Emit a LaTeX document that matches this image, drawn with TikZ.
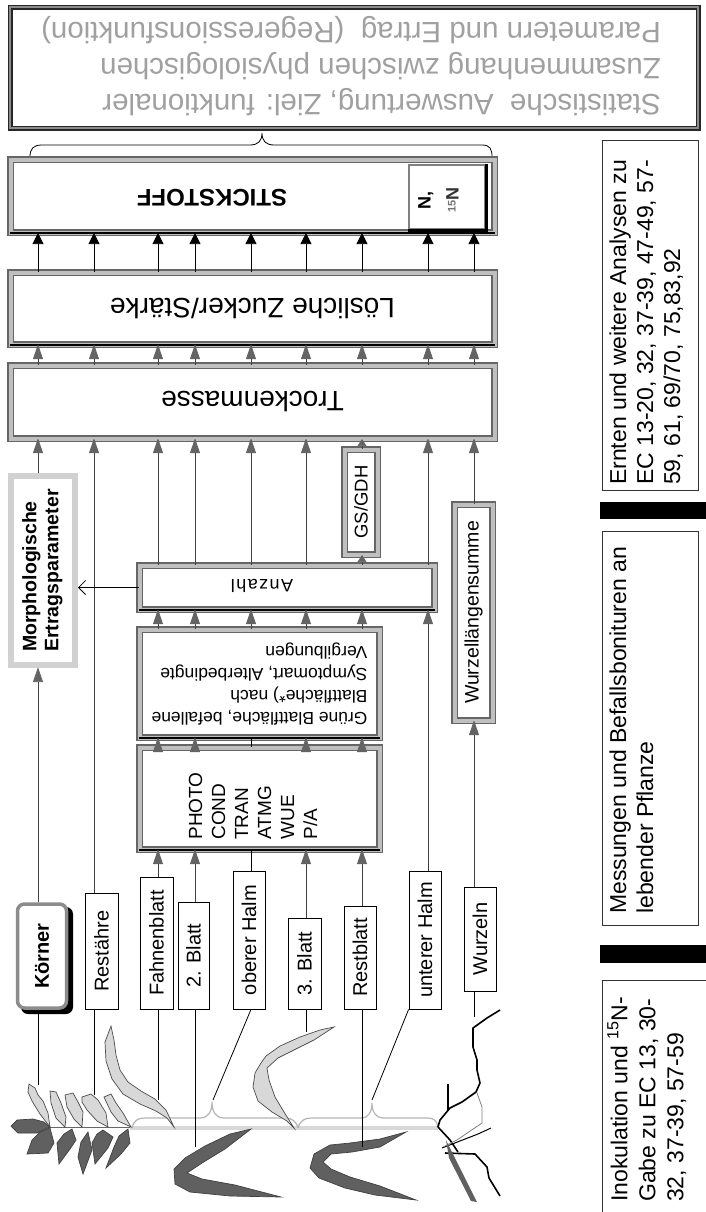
\documentclass[tikz,border=0pt]{standalone}
\usepackage{fontspec}
\setmainfont{Liberation Sans}
\usepackage{graphicx}
\usetikzlibrary{arrows.meta}
\definecolor{txtgray}{HTML}{A0A0A0}
\definecolor{agray}{HTML}{646464}
\definecolor{lgray}{HTML}{D8D8D8}
\definecolor{dgray}{HTML}{606060}
\definecolor{bgray}{HTML}{B4B4B4}
\newcommand\fsz[2]{\fontsize{#1}{#2}\selectfont}
\begin{document}
\begin{tikzpicture}[x=1pt,y=-1pt,
  bevel/.style={draw=black!60, line width=1.1pt, double=black!25, double distance=4pt, fill=white, inner sep=0pt},
  lbl/.style={draw=black, line width=0.8pt, fill=white, inner sep=0pt, font=\fsz{20}{23}},
  infobox/.style={draw=black!80, line width=0.9pt, inner sep=0pt},
  barrow/.style={draw=black, line width=0.8pt, -{Triangle[length=11pt,width=11pt]}},
  garrow/.style={draw=black!75, line width=0.8pt, -{Triangle[length=15pt,width=10pt,round,color=agray]}},
  gstub/.style={draw=black!75, line width=0.8pt, -{Triangle[length=7pt,width=9pt,color=agray]}},
  plain/.style={draw=black, line width=0.8pt},
  oarrow/.style={draw=black, line width=0.8pt, -{Straight Barb[length=7pt,width=14pt]}},
  lleaf/.style={fill=lgray, draw=black!70, line width=0.7pt},
  dleaf/.style={fill=dgray, draw=black!75, line width=0.7pt},
  rootline/.style={draw=black, line width=1.6pt, line join=round},
  bracegray/.style={draw=bgray, line width=1.2pt}
]
\useasboundingbox (0,0) rectangle (706,1212);
\fill[white] (0,0) rectangle (706,1212);

% ---------- top statistics box ----------
\node[draw=black!85, line width=1.5pt, double=black!45, double distance=2pt, fill=white,
      minimum width=688, minimum height=121, inner sep=0pt] (stat) at (354,68) {};
\node[text=txtgray, font=\fsz{29.5}{36}, inner sep=0pt] (stattext) at (351,66)
  {\rotatebox{180}{\begin{tabular}{@{}l@{}}Statistische\ \ Auswertung, Ziel: funktionaler\\Zusammenhang zwischen physiologischen\\Parametern und Ertrag\ \ (Regeressionsfunktion)\end{tabular}}};

% brace
\draw[black, line width=0.8pt] (30,157) .. controls (30,149) and (33,145) .. (42,145) -- (250,145)
  .. controls (258,145) and (262,141) .. (262,133) .. controls (262,141) and (266,145) .. (274,145)
  -- (482,145) .. controls (490,145) and (492,149) .. (492,157);

% ---------- STICKSTOFF ----------
\node[bevel, minimum width=484, minimum height=73] (stick) at (252.5,196) {};
\draw[black, line width=1.8pt] (stick.south west) -- (stick.south east);
\node[font=\bfseries\fsz{24}{28}] (sticktext) at (212,198) {\rotatebox{180}{STICKSTOFF}};
\node[draw=black!50, line width=2.5pt, fill=white, minimum width=76, minimum height=64, inner sep=0pt] (nbox) at (447,197) {};
\draw[black, line width=3pt] (nbox.north east) -- (nbox.south east) -- (nbox.south west);
\node[font=\bfseries\fsz{18}{28}, inner sep=0pt] (ntext) at (439,200)
  {\rotatebox{90}{\begin{tabular}{@{}c@{}}N,\\{\color{black!55}\fsz{11}{11}\raisebox{0.5ex}{15}}{\color{black!80}N}\end{tabular}}};

% ---------- Loesliche Zucker ----------
\node[bevel, minimum width=484, minimum height=72, font=\fsz{28}{32}] (loes) at (252.5,308.5) {\rotatebox{180}{Lösliche Zucker/Stärke}};
\draw[black, line width=1.8pt] (loes.south west) -- (loes.south east);

% ---------- Trockenmasse ----------
\node[bevel, minimum width=484, minimum height=73, font=\fsz{28}{32}] (trock) at (252.5,402) {\rotatebox{180}{Trockenmasse}};

% ---------- Morphologische ----------
\node[draw=black!18, line width=6pt, fill=white, minimum width=64, minimum height=189, inner sep=0pt,
      font=\bfseries\fsz{19.5}{22}] (morph) at (43,570.5)
  {\rotatebox{90}{\begin{tabular}{@{}l@{}}Morphologische\\Ertragsparameter\end{tabular}}};

% ---------- GS/GDH, Anzahl, Gruene, PHOTO, Wurzellaengensumme ----------
\node[bevel, minimum width=33, minimum height=105, font=\fsz{18.5}{22}] (gsgdh) at (361,502) {\rotatebox{90}{GS/GDH}};
\node[bevel, minimum width=295, minimum height=44] (anzahl) at (287,587.5) {};
\draw[black, line width=1.5pt] (anzahl.south west) -- (anzahl.south east);
\node[font=\fsz{18}{22}\addfontfeatures{LetterSpace=8}, inner sep=0pt] (anzahltext) at (262,586) {\rotatebox{180}{Anzahl}};
\node[bevel, minimum width=240, minimum height=108, font=\fsz{17.5}{22}] (gruene) at (259.5,683.5)
  {\rotatebox{180}{\begin{tabular}{@{}l@{}}Grüne Blattfläche, befallene\\Blattfläche*) nach\\Symptomart, Alterbedingte\\Vergilbungen\end{tabular}}};
\draw[black, line width=1.5pt] (gruene.south west) -- (gruene.south east);
\node[bevel, minimum width=240, minimum height=102] (photo) at (259.5,798.5) {};
\draw[black, line width=1.5pt] (photo.south west) -- (photo.south east);
\node[font=\fsz{19}{23}, inner sep=0pt] (phototext) at (255,806)
  {\rotatebox{90}{\begin{tabular}{@{}l@{}}PHOTO\\COND\\TRAN\\ATMG\\WUE\\P/A\end{tabular}}};
\node[bevel, minimum width=38, minimum height=216, font=\fsz{19.5}{23}] (wurzsum) at (473.5,612.5) {\rotatebox{90}{Wurzellängensumme}};

% ---------- label boxes ----------
\fill[black, rounded corners=7pt] (21,907) rectangle (73,1014);
\node[draw=black!45, line width=3.5pt, fill=white, rounded corners=7pt, minimum width=49, minimum height=104,
      inner sep=0pt, font=\bfseries\fsz{20}{24}] (koerner) at (42,956) {\rotatebox{90}{Körner}};
\node[lbl, minimum width=33, minimum height=116] (restaehre) at (101.5,951) {\rotatebox{90}{Restähre}};
\node[lbl, minimum width=33, minimum height=132] (fahnen) at (156.5,943) {\rotatebox{90}{Fahnenblatt}};
\node[lbl, minimum width=31, minimum height=107] (blatt2) at (193.5,955.5) {\rotatebox{90}{2. Blatt}};
\node[lbl, minimum width=32, minimum height=138] (oberer) at (249,940) {\rotatebox{90}{oberer Halm}};
\node[lbl, minimum width=33, minimum height=91] (blatt3) at (304.5,963.5) {\rotatebox{90}{3. Blatt}};
\node[lbl, minimum width=32, minimum height=103] (restblatt) at (360,957.5) {\rotatebox{90}{Restblatt}};
\node[lbl, minimum width=32, minimum height=138] (unterer) at (425,940) {\rotatebox{90}{unterer Halm}};
\node[lbl, minimum width=32, minimum height=104] (wurzeln) at (480,939) {\rotatebox{90}{Wurzeln}};

% ---------- right column ----------
\node[infobox, minimum width=96, minimum height=350] (ernten) at (650,315) {};
\node[anchor=south west, inner sep=0pt, font=\fsz{23}{27}] (erntentext) at (607,485)
  {\rotatebox{90}{\begin{tabular}{@{}l@{}}Ernten und weitere Analysen zu\\EC 13-20, 32, 37-39, 47-49, 57-\\59, 61, 69/70, 75,83,92\end{tabular}}};
\node[fill=black, minimum width=106, minimum height=17, inner sep=0pt] (bar1) at (653,510.5) {};
\node[infobox, minimum width=96, minimum height=394] (messung) at (650,728) {};
\node[anchor=south west, inner sep=0pt, font=\fsz{23}{27}] (messungtext) at (607,914)
  {\rotatebox{90}{\begin{tabular}{@{}l@{}}Messungen und Befallsbonituren an\\lebender Pflanze\end{tabular}}};
\node[fill=black, minimum width=106, minimum height=18, inner sep=0pt] (bar2) at (653,954) {};
\node[infobox, minimum width=118, minimum height=250] (inok) at (661,1105) {};
\node[anchor=south west, inner sep=0pt, font=\fsz{23}{28}] (inoktext) at (607,1202)
  {\rotatebox{90}{\begin{tabular}{@{}l@{}}Inokulation und \textsuperscript{15}N-\\Gabe zu EC 13, 30-\\32, 37-39, 57-59\end{tabular}}};

% ---------- arrows upper part ----------
\foreach \x in {38,94,158,195,251,306,362,428,474} {
  \draw[barrow] (loes.north -| \x,0) -- (stick.south -| \x,0);
  \draw[garrow] (trock.north -| \x,0) -- (loes.south -| \x,0);
}
\draw[garrow] (morph.north -| 38,0) -- (trock.south -| 38,0);
\draw[garrow] (restaehre.north -| 94,0) -- (trock.south -| 94,0);
\foreach \x in {158,195,251,306,428} {
  \draw[garrow] (anzahl.north -| \x,0) -- (trock.south -| \x,0);
}
\draw[gstub] (gsgdh.north -| 362,0) -- (trock.south -| 362,0);
\draw[gstub] (anzahl.north -| 362,0) -- (gsgdh.south -| 362,0);
\draw[garrow] (wurzsum.north -| 474,0) -- (trock.south -| 474,0);
\draw[garrow] (wurzeln.north -| 474,0) -- (wurzsum.south -| 474,0);
\draw[garrow] (unterer.north -| 428,0) -- (anzahl.south -| 428,0);
\foreach \x in {158,195,251,306,362} {
  \draw[garrow] (gruene.north -| \x,0) -- (anzahl.south -| \x,0);
}
\foreach \x in {158,195,306,362} {
  \draw[garrow] (photo.north -| \x,0) -- (gruene.south -| \x,0);
}
\draw[plain] (photo.north -| 251,0) -- (gruene.south -| 251,0);
\draw[garrow] (fahnen.north -| 158,0) -- (photo.south -| 158,0);
\draw[garrow] (blatt2.north -| 195,0) -- (photo.south -| 195,0);
\draw[plain] (oberer.north -| 251,0) -- (photo.south -| 251,0);
\draw[garrow] (blatt3.north -| 306,0) -- (photo.south -| 306,0);
\draw[garrow] (restblatt.north -| 362,0) -- (photo.south -| 362,0);
\draw[garrow] (koerner.north -| 38,0) -- (morph.south -| 38,0);
\draw[oarrow] (anzahl.west) -- (anzahl.west -| morph.east);

% ---------- plant ----------
\draw[black!60, line width=0.8pt] (43,1127) -- (132,1127);
\draw[lgray, line width=4pt] (130,1128) -- (438,1128);
\draw[bracegray] (132,1128) .. controls (134,1120) and (138,1118) .. (145,1118) -- (200,1118)
  .. controls (208,1118) and (212,1112) .. (212,1102) .. controls (212,1112) and (216,1118) .. (224,1118)
  -- (285,1118) .. controls (292,1118) and (296,1121) .. (298,1128);
\draw[bracegray] (298,1128) .. controls (300,1121) and (304,1118) .. (311,1118) -- (362,1118)
  .. controls (368,1118) and (372,1112) .. (372,1103) .. controls (372,1112) and (376,1118) .. (383,1118)
  -- (428,1118) .. controls (434,1118) and (437,1121) .. (438,1127);
% ear
\draw[lleaf] (29,1084) -- (35,1088) -- (38,1095) -- (43,1101) -- (48,1113) -- (50,1127) -- (40,1114) -- (32,1101) -- (28,1092) -- cycle;
\draw[lleaf] (50,1091) -- (56,1092) -- (61,1103) -- (66,1117) -- (65,1127) -- (56,1118) -- (51,1103) -- cycle;
\draw[lleaf] (65,1095) -- (73,1093) -- (78,1102) -- (83,1112) -- (82,1127) -- (74,1119) -- (67,1107) -- cycle;
\draw[lleaf] (82,1097) -- (91,1094) -- (98,1100) -- (106,1113) -- (108,1127) -- (97,1121) -- (87,1110) -- (82,1102) -- cycle;
\draw[lleaf] (104,1097) -- (111,1094) -- (116,1103) -- (123,1113) -- (131,1127) -- (118,1121) -- (111,1112) -- cycle;
\draw[dleaf] (11,1126) -- (17,1120) -- (33,1119) -- (44,1122) -- (50,1127) -- (37,1133) -- (18,1133) -- cycle;
\draw[dleaf] (50,1128) -- (54,1143) -- (48,1153) -- (27,1154) -- (32,1140) -- (40,1132) -- cycle;
\draw[dleaf] (72,1129) -- (76,1140) -- (70,1149) -- (59,1164) -- (57,1143) -- (64,1134) -- cycle;
\draw[dleaf] (88,1132) -- (92,1150) -- (83,1174) -- (78,1157) -- (81,1142) -- cycle;
\draw[dleaf] (103,1130) -- (113,1137) -- (108,1148) -- (95,1164) -- (92,1143) -- (97,1134) -- cycle;
\draw[dleaf] (128,1129) -- (130,1143) -- (121,1154) -- (106,1168) -- (114,1147) -- (119,1136) -- cycle;
% flag leaf
\draw[lleaf] (111,1026) -- (105,1042) -- (106,1061) -- (112,1079) -- (123,1094) -- (140,1104) -- (156,1111) -- (167,1118) -- (174,1127)
  -- (166,1110) -- (155,1099) -- (141,1091) -- (128,1082) -- (120,1070) -- (116,1055) -- (114,1040) -- cycle;
% 2. Blatt
\draw[dleaf] (251,1129) -- (230,1134) -- (205,1146) -- (185,1158) -- (174,1169) -- (175,1184) -- (190,1192) -- (230,1196) -- (281,1197)
  -- (235,1185) -- (202,1179) -- (187,1173) -- (202,1163) -- (225,1149) -- cycle;
% 3. Blatt
\draw[lleaf] (334,1027) -- (320,1030) -- (300,1037) -- (280,1046) -- (266,1056) -- (261,1063) -- (255,1073) -- (253,1087) -- (258,1101)
  -- (272,1112) -- (287,1121) -- (294,1128) -- (284,1112) -- (275,1097) -- (269,1080) -- (267,1068) -- (278,1058) -- (294,1050) -- (314,1040) -- cycle;
% Restblatt
\draw[dleaf] (406,1132) -- (380,1139) -- (350,1143) -- (330,1145) -- (314,1154) -- (310,1168) -- (319,1178) -- (345,1188) -- (375,1195) -- (416,1200)
  -- (380,1186) -- (350,1177) -- (331,1169) -- (323,1162) -- (331,1154) -- (352,1152) -- (380,1147) -- cycle;
% roots
\draw[rootline] (500,1010) -- (487,1018) -- (473,1028) -- (473,1047) -- (477,1060) -- (477,1070) -- (480,1083) -- (476,1092) -- (462,1102) -- (450,1108) -- (440,1120) -- (438,1127);
\draw[rootline] (448,1084) -- (448,1110);
\draw[rootline] (438,1127) -- (450,1140) -- (458,1152);
\draw[rootline] (445,1153) -- (475,1154) -- (487,1167) -- (489,1178) -- (500,1196);
\draw[black, line width=1pt] (442,1148) -- (460,1141) -- (478,1134) -- (491,1128);
\draw[black!50, line width=0.8pt] (477,1093) -- (482,1107) -- (482,1123) -- (457,1140) -- (443,1147);
\fill[dgray] (446,1140) -- (477,1202) -- (471,1201) -- (449,1158) -- cycle;

% ---------- connectors to plant ----------
\coordinate (pkoer) at (38,1085);
\coordinate (prest) at (94,1095);
\coordinate (pfahn) at (158,1100);
\coordinate (pbl2) at (195,1147);
\coordinate (pober) at (213,1100);
\coordinate (pbl3) at (306,1032);
\coordinate (prbl) at (362,1147);
\coordinate (punter) at (372,1100);
\coordinate (pwurz) at (474,1017);
\draw[plain] (koerner.south -| 38,0) -- (pkoer);
\draw[plain] (restaehre.south -| 94,0) -- (prest);
\draw[plain] (fahnen.south -| 158,0) -- (pfahn);
\draw[plain] (blatt2.south -| 195,0) -- (pbl2);
\draw[plain] (oberer.south -| 251,0) -- (pober);
\draw[plain] (blatt3.south -| 306,0) -- (pbl3);
\draw[plain] (restblatt.south -| 362,0) -- (prbl);
\draw[plain] (unterer.south west) -- (punter);
\draw[plain] (wurzeln.south -| 474,0) -- (pwurz);
\end{tikzpicture}
\end{document}
